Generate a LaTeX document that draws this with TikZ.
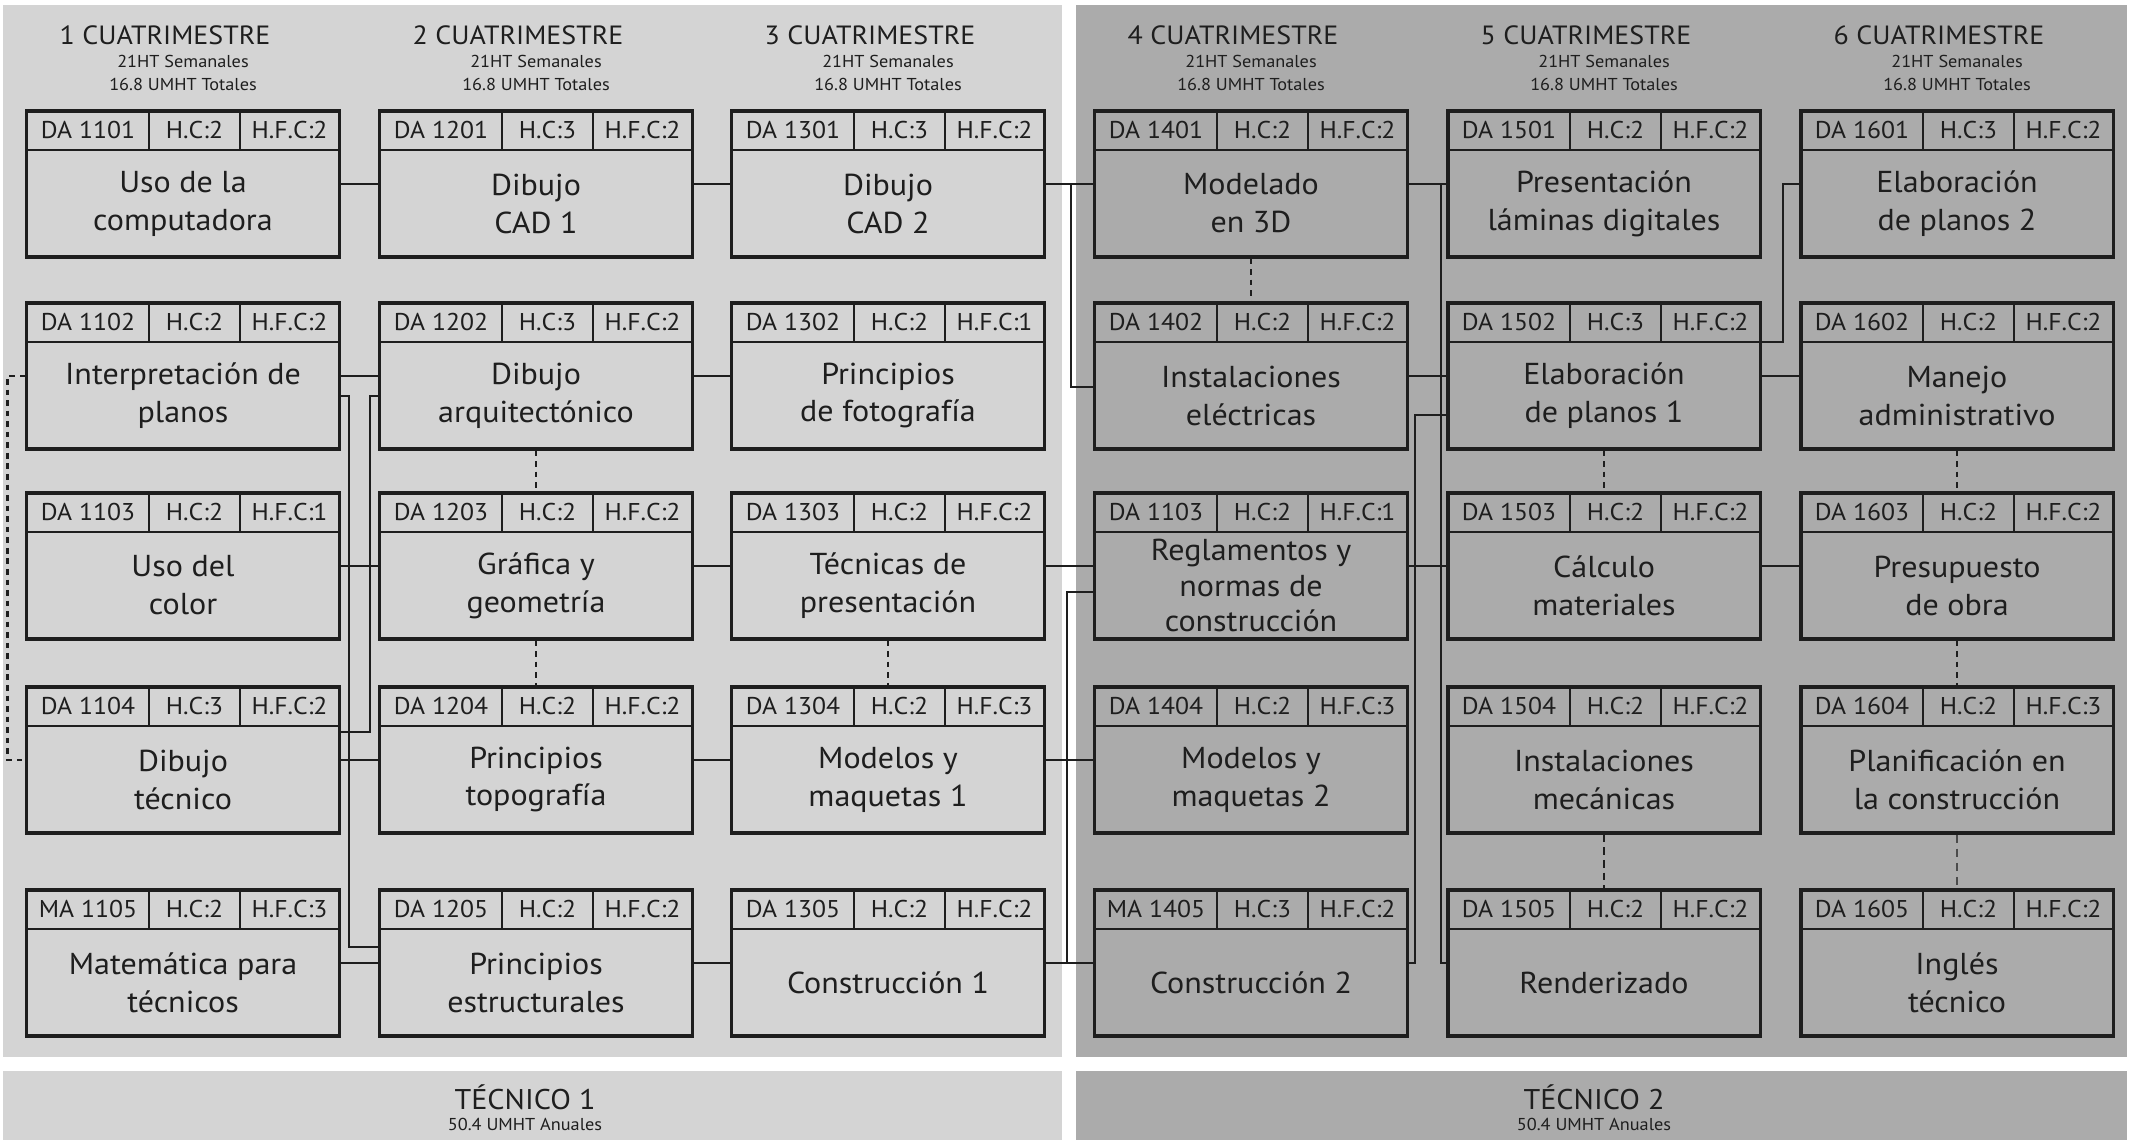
\documentclass[tikz,border=0pt]{standalone}
\usepackage{fontspec}
\setmainfont[FakeStretch=1.06]{PT Sans}
\usetikzlibrary{calc,positioning}

\definecolor{tecA}{HTML}{D4D4D4}
\definecolor{tecB}{HTML}{ABABAB}
\definecolor{ink}{HTML}{1E1E1E}

\begin{document}
\begin{tikzpicture}[x=0.01cm,y=-0.01cm,font=\fontsize{8.6}{10.8}\selectfont,
  materia/.style={draw=ink,line width=0.9pt,minimum width=3.12cm,minimum height=1.46cm,inner sep=0pt},
  celda/.style={font=\fontsize{6.9}{8}\selectfont,text=ink,inner sep=0pt},
  nombre/.style={align=center,text=ink,inner sep=0pt},
  link/.style={draw=ink,line width=0.6pt},
  prereq/.style={draw=ink,line width=0.8pt,dash pattern=on 1.6pt off 1.4pt},
  titulo/.style={font=\fontsize{7.5}{9}\selectfont,text=ink},
  subtit/.style={font=\fontsize{4.9}{6.3}\selectfont,align=center,text=ink}]
\useasboundingbox (0,0) rectangle (2135,1140);
\fill[white] (0,0) rectangle (2135,1140);
% paneles
\fill[tecA] (3,5) rectangle (1062,1057);
\fill[tecB] (1076,5) rectangle (2127,1057);
\fill[tecA] (3,1071) rectangle (1062,1140);
\fill[tecB] (1076,1071) rectangle (2127,1140);
% cuatrimestres
\foreach \k/\cx in {1/183,2/536,3/888,4/1251,5/1604,6/1957}{
  \node[titulo] (t\k) at (\cx-18,35) {\k\ CUATRIMESTRE};
  \node[subtit] (s\k) at (\cx,73) {21HT Semanales\\16.8 UMHT Totales};
}
% materias
\foreach \n/\x/\y/\code/\hc/\hfc/\txt in {
  11/27/111/DA 1101/2/2/{Uso de la\\computadora},
  12/27/303/DA 1102/2/2/{Interpretación de\\planos},
  13/27/493/DA 1103/2/1/{Uso del\\color},
  14/27/687/DA 1104/3/2/{Dibujo\\técnico},
  15/27/890/MA 1105/2/3/{Matemática para\\técnicos},
  21/380/111/DA 1201/3/2/{Dibujo\\CAD 1},
  22/380/303/DA 1202/3/2/{Dibujo\\arquitectónico},
  23/380/493/DA 1203/2/2/{Gráfica y\\geometría},
  24/380/687/DA 1204/2/2/{Principios\\topografía},
  25/380/890/DA 1205/2/2/{Principios\\estructurales},
  31/732/111/DA 1301/3/2/{Dibujo\\CAD 2},
  32/732/303/DA 1302/2/1/{Principios\\de fotografía},
  33/732/493/DA 1303/2/2/{Técnicas de\\presentación},
  34/732/687/DA 1304/2/3/{Modelos y\\maquetas 1},
  35/732/890/DA 1305/2/2/{Construcción 1},
  41/1095/111/DA 1401/2/2/{Modelado\\en 3D},
  42/1095/303/DA 1402/2/2/{Instalaciones\\eléctricas},
  43/1095/493/DA 1103/2/1/{Reglamentos y\\[-0.8pt]normas de\\[-0.8pt]construcción},
  44/1095/687/DA 1404/2/3/{Modelos y\\maquetas 2},
  45/1095/890/MA 1405/3/2/{Construcción 2},
  51/1448/111/DA 1501/2/2/{Presentación\\láminas digitales},
  52/1448/303/DA 1502/3/2/{Elaboración\\de planos 1},
  53/1448/493/DA 1503/2/2/{Cálculo\\materiales},
  54/1448/687/DA 1504/2/2/{Instalaciones\\mecánicas},
  55/1448/890/DA 1505/2/2/{Renderizado},
  61/1801/111/DA 1601/3/2/{Elaboración\\de planos 2},
  62/1801/303/DA 1602/2/2/{Manejo\\administrativo},
  63/1801/493/DA 1603/2/2/{Presupuesto\\de obra},
  64/1801/687/DA 1604/2/3/{Planificación en\\la construcción},
  65/1801/890/DA 1605/2/2/{Inglés\\técnico}}{
  \node[materia] (m\n) at (\x+156,\y+73) {};
  \draw[ink,line width=0.6pt] (\x,\y+39) -- (\x+312,\y+39)
    (\x+122,\y) -- (\x+122,\y+39) (\x+213,\y) -- (\x+213,\y+39);
  \node[celda] (m\n a) at (\x+61,\y+19.5) {\code};
  \node[celda] (m\n b) at (\x+167.5,\y+19.5) {H.C:\hc};
  \node[celda] (m\n c) at (\x+262.5,\y+19.5) {H.F.C:\hfc};
  \node[nombre] (m\n t) at (\x+156,\y+92.5) {\txt};
}
% seriaciones directas
\foreach \a/\b in {11/21,12/22,13/23,14/24,15/25,21/31,22/32,23/33,24/34,25/35,
  31/41,33/43,34/44,35/45,41/51,42/52,43/53,52/62,53/63}
  \draw[link] (m\a) -- (m\b);
\draw[link] ($(m12.east)+(0,20)$) -- ++(8,0) |- ($(m25.west)+(0,-16)$);
\draw[link] ($(m14.east)+(0,-28)$) -- ++(29,0) |- ($(m22.west)+(0,20)$);
\draw[link] (m31.east) -- ++(25,0) |- ($(m42.west)+(0,11)$);
\draw[link] ($(m43.west)+(0,26)$) -| ($(m45.west)+(-26,0)$);
\draw[link] (m41.east) -- ++(32,0) |- (m55.west);
\draw[link] (m45.east) -- ++(6,0) |- ($(m52.west)+(0,39)$);
\draw[link] ($(m52.east)+(0,-34)$) -- ++(21,0) |- (m61.west);
% seriaciones punteadas
\foreach \a/\b in {22/23,23/24,33/34,41/42,52/53,62/63,63/64}
  \draw[prereq] (m\a) -- (m\b);
\draw[prereq,dash pattern=on 2.2pt off 1.4pt] (m54) -- (m55);
\draw[prereq,line width=0.5pt,draw=ink!80,dash pattern=on 2.4pt off 1.6pt] (m64) -- (m65);
\draw[prereq] (m12.west) -- ++(-18,0) |- (m14.west);
% tecnicos
\node[titulo,font=\fontsize{8.1}{9}\selectfont] (tec1) at (525,1097) {TÉCNICO 1};
\node[subtit] (an1) at (525,1124) {50.4 UMHT Anuales};
\node[titulo,font=\fontsize{8.1}{9}\selectfont] (tec2) at (1594,1097) {TÉCNICO 2};
\node[subtit] (an2) at (1594,1124) {50.4 UMHT Anuales};
\end{tikzpicture}
\end{document}
